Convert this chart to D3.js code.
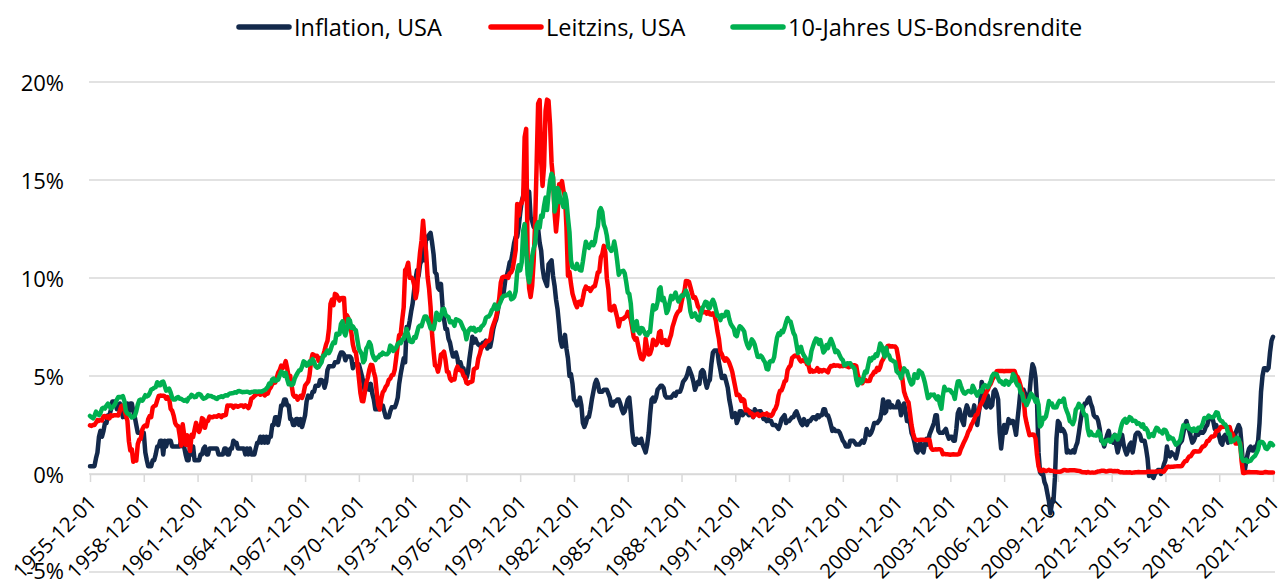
<!DOCTYPE html>
<html>
<head>
<meta charset="utf-8">
<script src="https://cdn.jsdelivr.net/npm/d3@7"></script>
<style>
  html, body { margin: 0; padding: 0; background: #ffffff; }
  svg { display: block; }
  text { font-family: "Open Sans", "Noto Sans", sans-serif; fill: #000; }
</style>
</head>
<body>
<svg id="chart" width="1285" height="584"></svg>
<script>
// ---------------- DATA (monthly, Dec 1955 .. Dec 2021) ----------------
const startYear = 1955, startMonth = 11; // December 1955 (0-based month)

const seriesNames = ["Inflation, USA", "Leitzins, USA", "10-Jahres US-Bondsrendite"];
const seriesColors = ["#13294B", "#FF0000", "#00B050"];

const yTicks = [-5, 0, 5, 10, 15, 20];
const xTickYears = [1955,1958,1961,1964,1967,1970,1973,1976,1979,1982,1985,1988,1991,1994,1997,2000,2003,2006,2009,2012,2015,2018,2021];

const inflation = [
0.4,
0.4,0.4,0.4,0.8,1.1,1.9,2.2,1.9,2.2,2.6,2.6,3.0,
3.0,3.3,3.7,3.7,3.7,3.3,3.3,3.6,3.3,2.9,3.2,2.9,
3.6,3.2,3.6,3.6,3.2,2.9,2.5,2.1,2.1,2.1,2.1,2.1,
1.1,0.7,0.4,0.4,0.4,0.7,0.7,1.0,1.4,1.4,1.7,1.7,
1.0,1.7,1.4,1.7,1.7,1.7,1.4,1.4,1.4,1.4,1.4,1.4,
1.7,1.4,1.4,1.0,0.7,0.7,1.4,1.0,1.4,0.7,0.7,0.7,
0.7,1.0,1.0,1.3,1.4,1.0,1.0,1.3,1.3,1.3,1.3,1.3,
1.3,1.0,1.0,1.0,1.0,1.3,1.3,1.0,1.0,1.3,1.3,1.7,
1.6,1.6,1.3,1.3,1.3,1.3,1.3,1.0,1.3,1.0,1.3,1.0,
1.0,1.0,1.3,1.6,1.6,1.9,1.6,1.9,1.6,1.9,1.6,1.9,
1.9,2.5,2.5,2.9,2.9,2.5,2.9,3.5,3.5,3.8,3.8,3.5,
3.5,2.8,2.8,2.5,2.5,2.8,2.8,2.5,2.8,2.4,2.7,3.0,
3.7,4.0,3.9,3.9,4.2,4.2,4.5,4.5,4.5,4.8,4.8,4.7,
4.4,4.7,5.3,5.5,5.5,5.5,5.5,5.7,5.7,5.7,6.0,6.2,
6.2,6.1,5.8,6.0,6.0,6.0,5.9,5.4,5.6,5.6,5.6,5.6,
5.3,5.0,4.7,4.2,4.4,4.6,4.3,4.6,4.1,3.8,3.3,3.3,
3.3,3.5,3.5,3.5,3.2,2.9,2.9,2.9,3.2,3.4,3.4,3.4,
3.6,3.9,4.6,5.1,5.5,5.9,5.7,7.5,7.4,7.8,8.3,8.7,
9.4,10.0,10.4,10.1,10.7,10.9,11.5,10.9,12.1,12.0,12.2,12.3,
11.8,11.2,10.3,10.2,9.5,9.4,9.7,8.6,7.9,7.4,7.4,6.9,
6.7,6.3,6.0,6.0,6.2,5.9,5.4,5.7,5.4,5.4,4.9,4.9,
5.2,5.9,6.4,7.0,6.7,6.9,6.7,6.6,6.6,6.4,6.7,6.7,
6.8,6.4,6.6,6.5,6.9,7.4,7.7,7.9,8.3,8.9,8.9,9.0,
9.3,9.9,10.1,10.4,10.8,10.9,11.3,11.8,12.1,12.1,12.6,13.3,
13.9,14.2,14.8,14.7,14.4,14.4,13.1,12.9,12.6,12.8,12.6,12.5,
11.8,11.4,10.5,10.0,9.8,9.6,10.7,10.8,10.9,10.1,9.6,8.9,
8.4,7.6,6.8,6.5,6.7,7.1,6.4,5.9,5.0,5.1,4.6,3.8,
3.7,3.5,3.6,3.9,3.5,2.6,2.4,2.6,2.9,2.9,3.3,3.8,
4.2,4.6,4.8,4.6,4.2,4.2,4.2,4.3,4.3,4.3,4.1,3.9,
3.5,3.5,3.7,3.7,3.8,3.8,3.6,3.3,3.1,3.2,3.5,3.8,
3.9,3.1,2.2,1.6,1.5,1.8,1.6,1.6,1.8,1.5,1.3,1.1,
1.5,2.1,3.0,3.8,3.9,3.7,3.9,4.3,4.4,4.5,4.5,4.4,
4.0,3.9,3.9,3.9,3.9,4.0,4.1,4.0,4.2,4.2,4.2,4.4,
4.7,4.8,4.9,5.1,5.4,5.2,5.0,4.7,4.3,4.5,4.7,4.6,
5.2,5.3,5.2,4.7,4.4,4.7,4.8,5.6,6.2,6.3,6.3,6.3,
5.7,5.3,4.9,4.9,5.0,4.7,4.4,3.8,3.4,2.9,3.0,3.1,
2.6,2.8,3.2,3.2,3.0,3.1,3.2,3.1,3.0,3.2,3.0,2.9,
3.3,3.2,3.1,3.2,3.2,3.0,2.8,2.8,2.7,2.8,2.7,2.7,
2.5,2.5,2.5,2.4,2.3,2.5,2.8,2.9,3.0,2.6,2.7,2.7,
2.8,2.9,2.9,3.1,3.2,3.0,2.8,2.6,2.5,2.8,2.6,2.5,
2.7,2.7,2.8,2.9,2.9,2.8,3.0,2.9,3.0,3.0,3.3,3.3,
3.0,3.0,2.8,2.5,2.2,2.3,2.2,2.2,2.2,2.1,1.9,1.7,
1.6,1.4,1.4,1.4,1.7,1.7,1.7,1.6,1.5,1.5,1.5,1.6,
1.7,1.6,1.8,2.3,2.1,2.0,2.1,2.3,2.6,2.6,2.6,2.7,
2.8,3.2,3.8,3.1,3.2,3.7,3.7,3.4,3.5,3.4,3.4,3.4,
3.7,3.5,3.0,3.3,3.6,3.2,2.7,2.7,2.6,2.1,1.9,1.6,
1.2,1.1,1.5,1.6,1.2,1.1,1.5,1.8,1.5,2.0,2.2,2.4,
2.6,3.0,3.0,2.2,2.1,2.1,2.1,2.2,2.3,2.0,1.8,1.9,
1.9,1.7,1.7,2.3,3.1,3.3,3.0,2.7,2.5,3.2,3.5,3.3,
3.0,3.0,3.1,3.5,2.8,2.5,3.1,3.6,4.7,4.3,3.5,3.4,
4.0,3.6,3.4,3.5,4.2,4.3,4.1,3.8,2.1,1.3,2.0,2.5,
2.1,2.4,2.8,2.6,2.7,2.7,2.4,2.0,2.8,3.5,4.3,4.1,
4.3,4.1,4.0,3.9,4.1,5.0,5.6,5.4,4.9,3.7,1.1,0.1,
0.0,0.0,-0.4,-0.6,-1.0,-1.4,-2.0,-1.5,-1.4,-0.2,1.8,2.7,
2.6,2.2,2.3,2.2,2.0,1.1,1.2,1.1,1.1,1.2,1.1,1.4,
1.6,2.1,2.6,3.1,3.4,3.6,3.6,3.8,3.9,3.6,3.4,3.0,
2.9,2.9,2.7,2.3,1.7,1.7,1.4,1.7,2.0,2.2,1.8,1.7,
1.6,2.0,1.5,1.1,1.4,1.8,2.0,1.5,1.2,1.0,1.2,1.5,
1.6,1.1,1.5,2.0,2.1,2.1,2.0,1.7,1.7,1.7,1.3,0.8,
-0.1,0.0,-0.1,-0.2,0.0,0.1,0.2,0.2,0.0,0.2,0.5,0.7,
1.4,1.0,0.9,1.1,1.0,1.0,0.8,1.1,1.5,1.6,1.7,2.1,
2.5,2.7,2.4,2.2,1.9,1.6,1.7,1.9,2.2,2.0,2.2,2.1,
2.1,2.2,2.4,2.5,2.8,2.9,2.9,2.7,2.3,2.5,2.2,1.9,
1.6,1.5,1.9,2.0,1.8,1.6,1.8,1.7,1.7,1.8,2.1,2.3,
2.5,2.3,1.5,0.3,0.1,0.6,1.0,1.3,1.4,1.2,1.2,1.4,
1.4,1.7,2.6,4.2,5.0,5.4,5.4,5.3,5.4,6.2,6.8,7.0
];

const leitzins = [
2.48,
2.45,2.50,2.50,2.62,2.75,2.71,2.75,2.73,2.95,2.96,2.88,2.94,
2.84,3.00,2.96,3.00,3.00,3.00,2.99,3.24,3.47,3.50,3.28,2.98,
2.72,1.67,1.20,1.26,0.63,0.93,0.68,1.53,1.76,1.80,2.27,2.42,
2.48,2.43,2.80,2.96,2.90,3.39,3.47,3.50,3.76,3.98,4.00,3.99,
3.99,3.97,3.84,3.92,3.85,3.32,3.23,2.98,2.60,2.47,2.44,1.98,
1.45,2.54,2.02,1.49,1.98,1.73,1.17,2.00,1.88,2.26,2.61,2.33,
2.15,2.37,2.85,2.78,2.36,2.68,2.71,2.93,2.90,2.90,2.94,2.93,
2.92,3.00,2.98,2.90,3.00,2.99,3.02,3.49,3.48,3.50,3.48,3.38,
3.48,3.48,3.43,3.47,3.50,3.50,3.42,3.50,3.45,3.36,3.52,3.85,
3.90,3.98,4.04,4.09,4.10,4.04,4.09,4.12,4.01,4.08,4.10,4.32,
4.42,4.60,4.65,4.67,4.90,5.17,5.30,5.53,5.40,5.53,5.76,5.40,
4.94,5.00,4.53,4.05,3.94,3.98,3.79,3.90,3.99,3.88,4.13,4.51,
4.61,4.71,5.05,5.76,6.11,6.07,6.02,6.03,5.78,5.91,5.82,6.02,
6.30,6.61,6.79,7.41,8.67,8.90,8.61,9.19,9.15,9.00,8.85,8.97,
8.98,8.98,7.76,8.10,7.95,7.61,7.21,6.61,6.29,6.20,5.60,4.90,
4.14,3.72,3.71,4.15,4.63,4.91,5.31,5.57,5.55,5.20,4.91,4.14,
3.50,3.29,3.83,4.17,4.27,4.46,4.55,4.80,4.87,5.04,5.06,5.33,
5.94,6.58,7.09,7.12,7.84,8.49,10.40,10.50,10.78,10.01,10.03,9.95,
9.65,8.97,9.35,10.51,11.31,11.93,12.92,12.01,11.34,10.06,9.45,8.53,
7.13,6.24,5.54,5.49,5.22,5.55,6.10,6.14,6.24,5.82,5.22,5.20,
4.87,4.77,4.84,4.82,5.29,5.48,5.31,5.29,5.25,5.02,4.95,4.65,
4.61,4.68,4.69,4.73,5.35,5.39,5.42,5.90,6.14,6.47,6.51,6.56,
6.70,6.78,6.79,6.89,7.36,7.60,7.81,8.04,8.45,8.96,9.76,10.03,
10.07,10.06,10.09,10.01,10.24,10.29,10.47,10.94,11.43,13.77,13.18,13.78,
13.82,14.13,17.19,17.61,10.98,9.47,9.03,9.61,10.87,12.81,15.85,18.90,
19.08,15.93,14.70,15.72,18.52,19.10,19.04,17.82,15.87,15.08,13.31,12.37,
13.22,14.78,14.68,14.94,14.45,14.15,12.59,10.12,10.31,9.71,9.20,8.95,
8.68,8.51,8.77,8.80,8.63,8.98,9.37,9.56,9.45,9.48,9.34,9.47,
9.56,9.59,9.91,10.29,10.32,11.06,11.23,11.64,11.30,9.99,9.43,8.38,
8.35,8.50,8.58,8.27,7.97,7.53,7.88,7.90,7.92,7.99,8.05,8.27,
8.14,7.86,7.48,6.99,6.85,6.92,6.56,6.17,5.89,5.85,6.04,6.91,
6.43,6.10,6.13,6.37,6.85,6.73,6.58,6.73,7.22,7.29,6.69,6.77,
6.83,6.58,6.58,6.87,7.09,7.51,7.75,8.01,8.19,8.30,8.35,8.76,
9.12,9.36,9.85,9.84,9.81,9.53,9.24,8.99,9.02,8.84,8.55,8.45,
8.23,8.24,8.28,8.26,8.18,8.29,8.15,8.13,8.20,8.11,7.81,7.31,
6.91,6.25,6.12,5.91,5.78,5.90,5.82,5.66,5.45,5.21,4.81,4.43,
4.03,4.06,3.98,3.73,3.82,3.76,3.25,3.30,3.22,3.10,3.09,2.92,
3.02,3.03,3.07,2.96,3.00,3.04,3.06,3.03,3.09,2.99,3.02,2.96,
3.05,3.25,3.34,3.56,4.01,4.25,4.26,4.47,4.73,4.76,5.29,5.45,
5.53,5.92,5.98,6.05,6.01,6.00,5.85,5.74,5.80,5.76,5.80,5.60,
5.56,5.22,5.31,5.22,5.24,5.27,5.40,5.22,5.30,5.24,5.31,5.29,
5.25,5.19,5.39,5.51,5.50,5.56,5.52,5.54,5.54,5.50,5.52,5.50,
5.56,5.51,5.49,5.45,5.49,5.56,5.54,5.55,5.51,5.07,4.83,4.68,
4.63,4.76,4.81,4.74,4.74,4.76,4.99,5.07,5.22,5.20,5.42,5.30,
5.45,5.73,5.85,6.02,6.27,6.53,6.54,6.50,6.52,6.51,6.51,6.40,
5.98,5.49,5.31,4.80,4.21,3.97,3.77,3.65,3.07,2.49,2.09,1.82,
1.73,1.74,1.73,1.75,1.75,1.75,1.73,1.74,1.75,1.75,1.34,1.24,
1.24,1.26,1.25,1.26,1.26,1.22,1.01,1.03,1.01,1.01,1.00,0.98,
1.00,1.01,1.00,1.00,1.00,1.03,1.26,1.43,1.61,1.76,1.93,2.16,
2.28,2.50,2.63,2.79,3.00,3.04,3.26,3.50,3.62,3.78,4.00,4.16,
4.29,4.49,4.59,4.79,4.94,4.99,5.24,5.25,5.25,5.25,5.25,5.24,
5.25,5.26,5.26,5.25,5.25,5.25,5.26,5.02,4.94,4.76,4.49,4.24,
3.94,2.98,2.61,2.28,1.98,2.00,2.01,2.00,1.81,0.97,0.39,0.16,
0.15,0.22,0.18,0.15,0.18,0.21,0.16,0.16,0.15,0.12,0.12,0.12,
0.11,0.13,0.16,0.20,0.20,0.18,0.18,0.19,0.19,0.19,0.19,0.18,
0.17,0.16,0.14,0.10,0.09,0.09,0.07,0.10,0.08,0.07,0.08,0.07,
0.08,0.10,0.13,0.14,0.16,0.16,0.16,0.13,0.14,0.16,0.16,0.16,
0.14,0.15,0.14,0.15,0.11,0.09,0.09,0.08,0.08,0.09,0.08,0.09,
0.07,0.07,0.08,0.09,0.09,0.10,0.09,0.09,0.09,0.09,0.09,0.12,
0.11,0.11,0.11,0.12,0.12,0.13,0.13,0.14,0.14,0.12,0.12,0.24,
0.34,0.38,0.36,0.37,0.37,0.38,0.39,0.40,0.40,0.40,0.41,0.54,
0.65,0.66,0.79,0.90,0.91,1.04,1.15,1.16,1.15,1.15,1.16,1.30,
1.41,1.42,1.51,1.69,1.70,1.82,1.91,1.91,1.95,2.19,2.20,2.27,
2.40,2.40,2.41,2.42,2.39,2.38,2.40,2.13,2.04,1.83,1.55,1.55,
1.55,1.58,0.65,0.05,0.05,0.08,0.09,0.10,0.09,0.09,0.09,0.09,
0.09,0.08,0.07,0.07,0.06,0.08,0.10,0.09,0.08,0.08,0.08,0.08
];

const bondYield = [
2.96,
2.90,2.84,2.96,3.18,3.07,3.00,3.11,3.33,3.38,3.34,3.49,3.59,
3.46,3.34,3.41,3.48,3.60,3.80,3.93,3.93,3.92,3.97,3.72,3.21,
3.09,3.05,2.98,2.88,2.92,2.97,3.20,3.54,3.76,3.80,3.74,3.86,
4.02,3.96,3.99,4.12,4.31,4.34,4.40,4.43,4.68,4.53,4.53,4.69,
4.72,4.49,4.25,4.28,4.35,4.15,3.90,3.80,3.80,3.89,3.93,3.84,
3.84,3.78,3.74,3.78,3.71,3.88,3.92,4.04,3.98,3.92,3.94,4.06,
4.08,4.04,3.93,3.84,3.87,3.91,4.01,3.98,3.98,3.93,3.92,3.86,
3.83,3.92,3.93,3.97,3.93,3.99,4.02,4.00,4.08,4.11,4.12,4.13,
4.17,4.15,4.22,4.23,4.20,4.17,4.19,4.19,4.20,4.19,4.15,4.18,
4.19,4.21,4.21,4.20,4.21,4.21,4.20,4.25,4.29,4.35,4.45,4.62,
4.61,4.83,4.87,4.75,4.78,4.81,5.02,5.22,5.18,5.01,5.16,4.84,
4.58,4.63,4.54,4.59,4.85,5.02,5.16,5.28,5.30,5.48,5.75,5.70,
5.53,5.56,5.74,5.64,5.87,5.72,5.50,5.42,5.46,5.58,5.70,6.03,
6.04,6.19,6.30,6.17,6.32,6.57,6.72,6.69,7.16,7.10,7.14,7.65,
7.79,7.24,7.07,7.39,7.91,7.84,7.46,7.53,7.39,7.33,6.84,6.39,
6.24,6.11,5.70,5.83,6.39,6.52,6.73,6.58,6.14,5.93,5.81,5.93,
5.95,6.08,6.07,6.19,6.13,6.11,6.11,6.21,6.55,6.48,6.28,6.36,
6.46,6.64,6.71,6.67,6.85,6.90,7.13,7.40,7.09,6.79,6.73,6.74,
6.99,6.96,7.21,7.51,7.58,7.54,7.81,8.04,8.04,7.90,7.68,7.43,
7.50,7.39,7.73,8.23,8.06,7.86,8.06,8.40,8.43,8.14,8.05,8.00,
7.74,7.79,7.73,7.56,7.90,7.86,7.83,7.77,7.59,7.41,7.29,6.87,
7.21,7.39,7.46,7.37,7.46,7.28,7.33,7.40,7.34,7.52,7.58,7.69,
7.96,8.03,8.04,8.15,8.35,8.46,8.64,8.41,8.42,8.64,8.81,9.01,
9.10,9.10,9.12,9.18,9.25,8.91,8.95,9.03,9.33,10.30,10.65,10.39,
10.80,12.41,12.75,11.47,10.18,9.78,10.25,11.10,11.51,11.75,12.68,12.84,
12.57,13.19,13.12,13.68,14.10,13.47,14.28,14.94,15.32,15.15,13.39,13.72,
14.59,14.43,13.86,13.87,13.62,14.30,13.95,13.06,12.34,10.91,10.55,10.54,
10.46,10.72,10.51,10.40,10.38,10.85,11.38,11.85,11.65,11.54,11.69,11.83,
11.67,11.84,12.32,12.63,13.41,13.56,13.36,12.72,12.52,12.16,11.57,11.50,
11.38,11.51,11.86,11.43,10.85,10.16,10.31,10.33,10.37,10.24,9.78,9.26,
9.19,8.70,7.78,7.30,7.71,7.80,7.30,7.17,7.45,7.43,7.25,7.11,
7.08,7.25,7.25,8.02,8.61,8.40,8.45,8.76,9.42,9.52,8.86,8.99,
8.67,8.21,8.37,8.72,9.09,8.92,9.06,9.26,8.98,8.80,8.96,9.11,
9.09,9.17,9.36,9.18,8.86,8.28,8.02,8.11,8.19,8.01,7.87,7.84,
8.21,8.47,8.59,8.79,8.76,8.48,8.47,8.75,8.89,8.72,8.39,8.08,
8.09,7.85,8.11,8.04,8.07,8.28,8.27,7.90,7.65,7.53,7.42,7.09,
7.03,7.34,7.54,7.48,7.39,7.26,6.84,6.59,6.42,6.59,6.87,6.77,
6.60,6.26,5.98,5.97,6.04,5.96,5.81,5.68,5.36,5.33,5.72,5.77,
5.75,5.97,6.48,6.97,7.18,7.10,7.30,7.24,7.46,7.74,7.96,7.81,
7.78,7.47,7.20,7.06,6.63,6.17,6.28,6.49,6.20,6.04,5.93,5.71,
5.65,5.81,6.27,6.51,6.74,6.91,6.87,6.64,6.83,6.53,6.20,6.30,
6.58,6.42,6.69,6.89,6.71,6.49,6.22,6.30,6.21,6.03,5.88,5.81,
5.54,5.57,5.65,5.64,5.65,5.50,5.46,5.34,4.81,4.53,4.83,4.65,
4.72,5.00,5.23,5.18,5.54,5.90,5.79,5.94,5.92,6.11,6.03,6.28,
6.66,6.52,6.26,5.99,6.44,6.10,6.05,5.83,5.80,5.74,5.72,5.24,
5.16,5.10,4.89,5.14,5.39,5.28,5.24,4.97,4.73,4.57,4.65,5.09,
5.04,4.91,5.28,5.21,5.16,4.93,4.65,4.26,3.87,3.94,4.05,4.03,
4.05,3.90,3.81,3.96,3.57,3.33,3.98,4.45,4.27,4.29,4.30,4.27,
4.15,4.08,3.83,4.35,4.72,4.73,4.50,4.28,4.13,4.10,4.19,4.23,
4.22,4.17,4.50,4.34,4.14,4.00,4.18,4.26,4.20,4.46,4.54,4.47,
4.42,4.57,4.72,4.99,5.11,5.11,5.09,4.88,4.72,4.73,4.60,4.56,
4.76,4.72,4.56,4.69,4.75,5.10,5.00,4.67,4.52,4.53,4.15,4.10,
3.74,3.74,3.51,3.68,3.88,4.10,4.01,3.89,3.69,3.81,3.53,2.42,
2.52,2.87,2.82,2.93,3.29,3.72,3.56,3.59,3.40,3.39,3.40,3.59,
3.73,3.69,3.73,3.85,3.42,3.20,3.01,2.70,2.65,2.54,2.76,3.29,
3.39,3.58,3.41,3.46,3.17,3.00,3.00,2.30,1.98,2.15,2.01,1.98,
1.97,1.97,2.17,2.05,1.80,1.62,1.53,1.68,1.72,1.75,1.65,1.72,
1.91,1.98,1.96,1.76,1.93,2.30,2.58,2.74,2.81,2.62,2.72,2.90,
2.86,2.71,2.72,2.71,2.56,2.60,2.54,2.42,2.53,2.30,2.33,2.21,
1.88,1.98,2.04,1.94,2.20,2.36,2.32,2.17,2.17,2.07,2.26,2.24,
2.09,1.78,1.89,1.81,1.81,1.64,1.50,1.56,1.63,1.76,2.14,2.49,
2.43,2.42,2.48,2.30,2.30,2.19,2.32,2.21,2.20,2.36,2.35,2.40,
2.58,2.86,2.84,2.87,2.98,2.91,2.89,2.89,3.00,3.15,3.12,2.83,
2.71,2.68,2.57,2.53,2.40,2.07,2.06,1.63,1.70,1.71,1.81,1.86,
1.76,1.50,0.87,0.66,0.67,0.73,0.62,0.65,0.68,0.79,0.87,0.93,
1.08,1.26,1.61,1.64,1.62,1.52,1.32,1.28,1.37,1.58,1.56,1.47
];

// ---------------- CHART ----------------
const svg = d3.select("#chart");
const W = 1285, H = 584;
svg.append("rect").attr("width", W).attr("height", H).attr("fill", "#fff");

const dates = inflation.map((_, i) => new Date(startYear, startMonth + i, 1));
const x = d3.scaleTime()
  .domain([new Date(1955, 11, 1), new Date(2021, 11, 1)])
  .range([90, 1273]);
const y = d3.scaleLinear().domain([-5, 20]).range([572, 82]);

const gridColor = "#d9d9d9";

// horizontal gridlines
svg.append("g").selectAll("line").data(yTicks).join("line")
  .attr("x1", 89).attr("x2", 1275)
  .attr("y1", d => y(d)).attr("y2", d => y(d))
  .attr("stroke", gridColor).attr("stroke-width", 1.5);

// y labels
svg.append("g").selectAll("text").data(yTicks).join("text")
  .attr("x", 64).attr("y", d => y(d) - (d === -5 ? 2 : 0))
  .attr("text-anchor", "end").attr("dominant-baseline", "central")
  .attr("font-size", 22)
  .text(d => d + "%");

// x axis (at 0)
const xTickDates = xTickYears.map(yr => new Date(yr, 11, 1));
const xAxis = d3.axisBottom(x).tickValues(xTickDates).tickSize(8).tickSizeOuter(0)
  .tickFormat(d3.timeFormat("%Y-%m-%d"));
const gx = svg.append("g").attr("transform", `translate(0,${y(0)})`).call(xAxis);
gx.select(".domain").attr("stroke", gridColor).attr("stroke-width", 1.5);
gx.selectAll(".tick line").attr("stroke", gridColor).attr("stroke-width", 1.5);
gx.selectAll(".tick text")
  .attr("font-size", 20.5)
  .attr("font-family", "'Open Sans', 'Noto Sans', sans-serif")
  .attr("fill", "#000")
  .attr("text-anchor", "end")
  .attr("dy", null)
  .attr("y", 0)
  .attr("transform", "translate(7,30) rotate(-45)");

// series lines
const series = [inflation, leitzins, bondYield];
const line = d3.line().x((d, i) => x(dates[i])).y(d => y(d));
series.forEach((s, k) => {
  svg.append("path").datum(s)
    .attr("d", line)
    .attr("fill", "none")
    .attr("stroke", seriesColors[k])
    .attr("stroke-width", 4.5)
    .attr("stroke-linejoin", "round")
    .attr("stroke-linecap", "round");
});

// legend
const legendX = [236, 488, 730];
const lg = svg.append("g");
seriesNames.forEach((name, k) => {
  const g = lg.append("g").attr("transform", `translate(${legendX[k]},27)`);
  g.append("line").attr("x1", 3).attr("x2", 53).attr("y1", 0).attr("y2", 0)
    .attr("stroke", seriesColors[k]).attr("stroke-width", 5.5).attr("stroke-linecap", "round");
  g.append("text").attr("x", 58).attr("y", 0).attr("dominant-baseline", "central")
    .attr("font-size", 23.5).text(name);
});
</script>
</body>
</html>
